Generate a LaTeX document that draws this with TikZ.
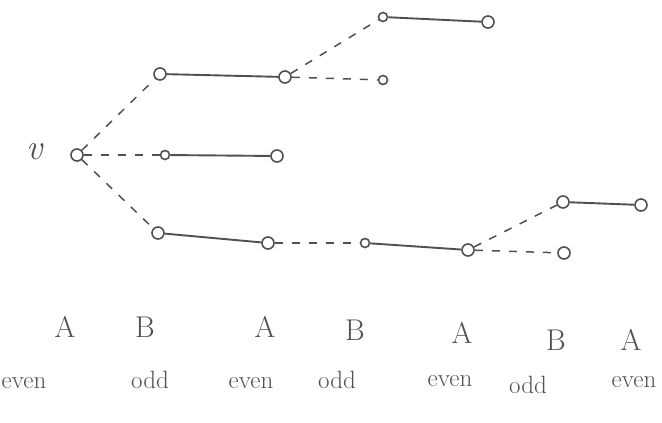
\documentclass[tikz,border=0pt]{standalone}
\usepackage{fontspec}
\usepackage{tikz}
\usetikzlibrary{positioning}
\definecolor{inkgray}{RGB}{80, 80, 80}

\begin{document}
\begin{tikzpicture}[x=1pt, y=-1pt,
    vert/.style={circle, draw=inkgray, line width=1.6pt, minimum size=12pt, inner sep=0pt},
    smallvert/.style={vert, minimum size=9pt},
    solidedge/.style={draw=inkgray, line width=1.9pt},
    dashedge/.style={draw=inkgray, line width=1.5pt, dash pattern=on 8pt off 9pt},
    letter/.style={text=inkgray, font=\fontsize{30}{34}\selectfont},
    parity/.style={text=inkgray, font=\fontsize{25}{28}\selectfont}]

    \useasboundingbox (0,0) rectangle (662,423);

    % root
    \node[text=inkgray, font=\fontsize{36}{40}\selectfont\itshape] (vlabel) at (35,152) {v};
    \node[vert] (v) at (77,155) {};

    % upper branch
    \node[vert] (u1) at (160,74) {};
    \node[vert] (u2) at (285,77) {};
    \node[smallvert] (u3) at (383,17) {};
    \node[vert] (u4) at (488,22) {};
    \node[smallvert] (u5) at (383,80) {};

    % middle branch
    \node[smallvert] (m1) at (165,155) {};
    \node[vert] (m2) at (277,156) {};

    % lower branch
    \node[vert] (l1) at (158,233) {};
    \node[vert] (l2) at (268,243) {};
    \node[smallvert] (l3) at (365,243) {};
    \node[vert] (l4) at (468,250) {};
    \node[vert] (l5) at (563,202) {};
    \node[vert] (l6) at (641,205) {};
    \node[vert] (l7) at (564,253) {};

    % dashed (unmatched) edges
    \foreach \a/\b in {v/u1, u2/u3, u2/u5, v/m1, v/l1, l2/l3, l4/l5, l4/l7}{
      \draw[dashedge] (\a) -- (\b);
    }

    % solid (matched) edges
    \foreach \a/\b in {u1/u2, u3/u4, m1/m2, l1/l2, l3/l4, l5/l6}{
      \draw[solidedge] (\a) -- (\b);
    }

    % layer letters
    \foreach \x/\y/\t [count=\i] in {65/327/A, 145/327/B, 265/327/A, 355/330/B,
                                     462/333/A, 556/340/B, 631/340/A}{
      \node[letter] (side\i) at (\x,\y) {\t};
    }

    % parity labels
    \foreach \x/\y/\t [count=\i] in {24/383/even, 150/380/odd, 251/383/even, 337/380/odd,
                                     450/381/even, 528/385/odd, 634/382/even}{
      \node[parity] (par\i) at (\x,\y) {\t};
    }

\end{tikzpicture}
\end{document}
